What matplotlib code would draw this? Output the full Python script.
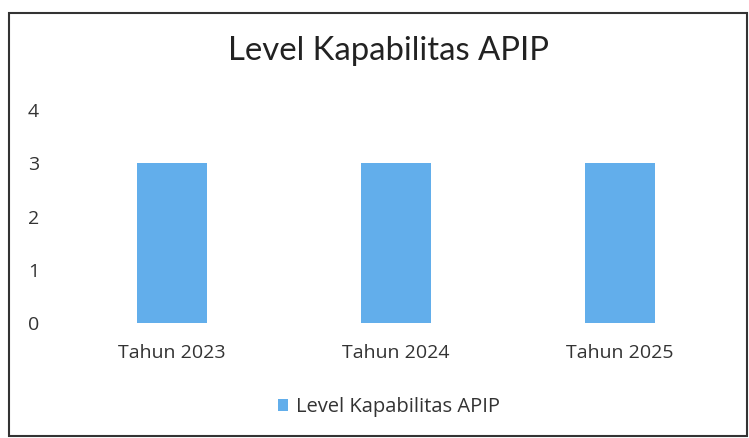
import matplotlib
matplotlib.use("Agg")
import matplotlib.pyplot as plt
from matplotlib.patches import Rectangle

categories = ["Tahun 2023", "Tahun 2024", "Tahun 2025"]
values = [3, 3, 3]
series_name = "Level Kapabilitas APIP"
yticks = [0, 1, 2, 3, 4]

plt.rcParams['font.family'] = ['Open Sans', 'DejaVu Sans']

W, H = 749, 438
fig = plt.figure(figsize=(W/100, H/100), dpi=100)
ax = fig.add_axes([60/W, 1-323/H, (732-60)/W, (323-110)/H])

color = '#62AEEB'
x = range(len(categories))
ax.bar(x, values, width=0.31, color=color, label=series_name)
ax.set_xlim(-0.5, len(categories)-0.5)
ax.set_ylim(0, 4)
ax.set_yticks(yticks)
ax.set_xticks(list(x))
ax.set_xticklabels(categories)
for s in ax.spines.values():
    s.set_visible(False)
ax.tick_params(axis='both', length=0, labelsize=14, colors='#333333')
for lbl in ax.get_yticklabels():
    lbl.set_horizontalalignment('left')
ax.tick_params(axis='y', pad=23)
ax.tick_params(axis='x', pad=15)

fig.text(388/W, 1-51/H, "Level Kapabilitas APIP", ha='center', va='center',
         fontsize=23.7, color='#222222', family=['Lato', 'DejaVu Sans'])

fig.legend(loc='center', bbox_to_anchor=(389/W, 1-407/H), frameon=False,
           fontsize=14.5, handlelength=0.5, handleheight=0.5, handletextpad=0.4,
           labelcolor='#333333')

fig.patches.append(Rectangle((9/W, 1-436/H), (747-9)/W, (436-13)/H,
                             transform=fig.transFigure, fill=False,
                             edgecolor='#333333', linewidth=1.5))

fig.savefig("out.png", dpi=100)
